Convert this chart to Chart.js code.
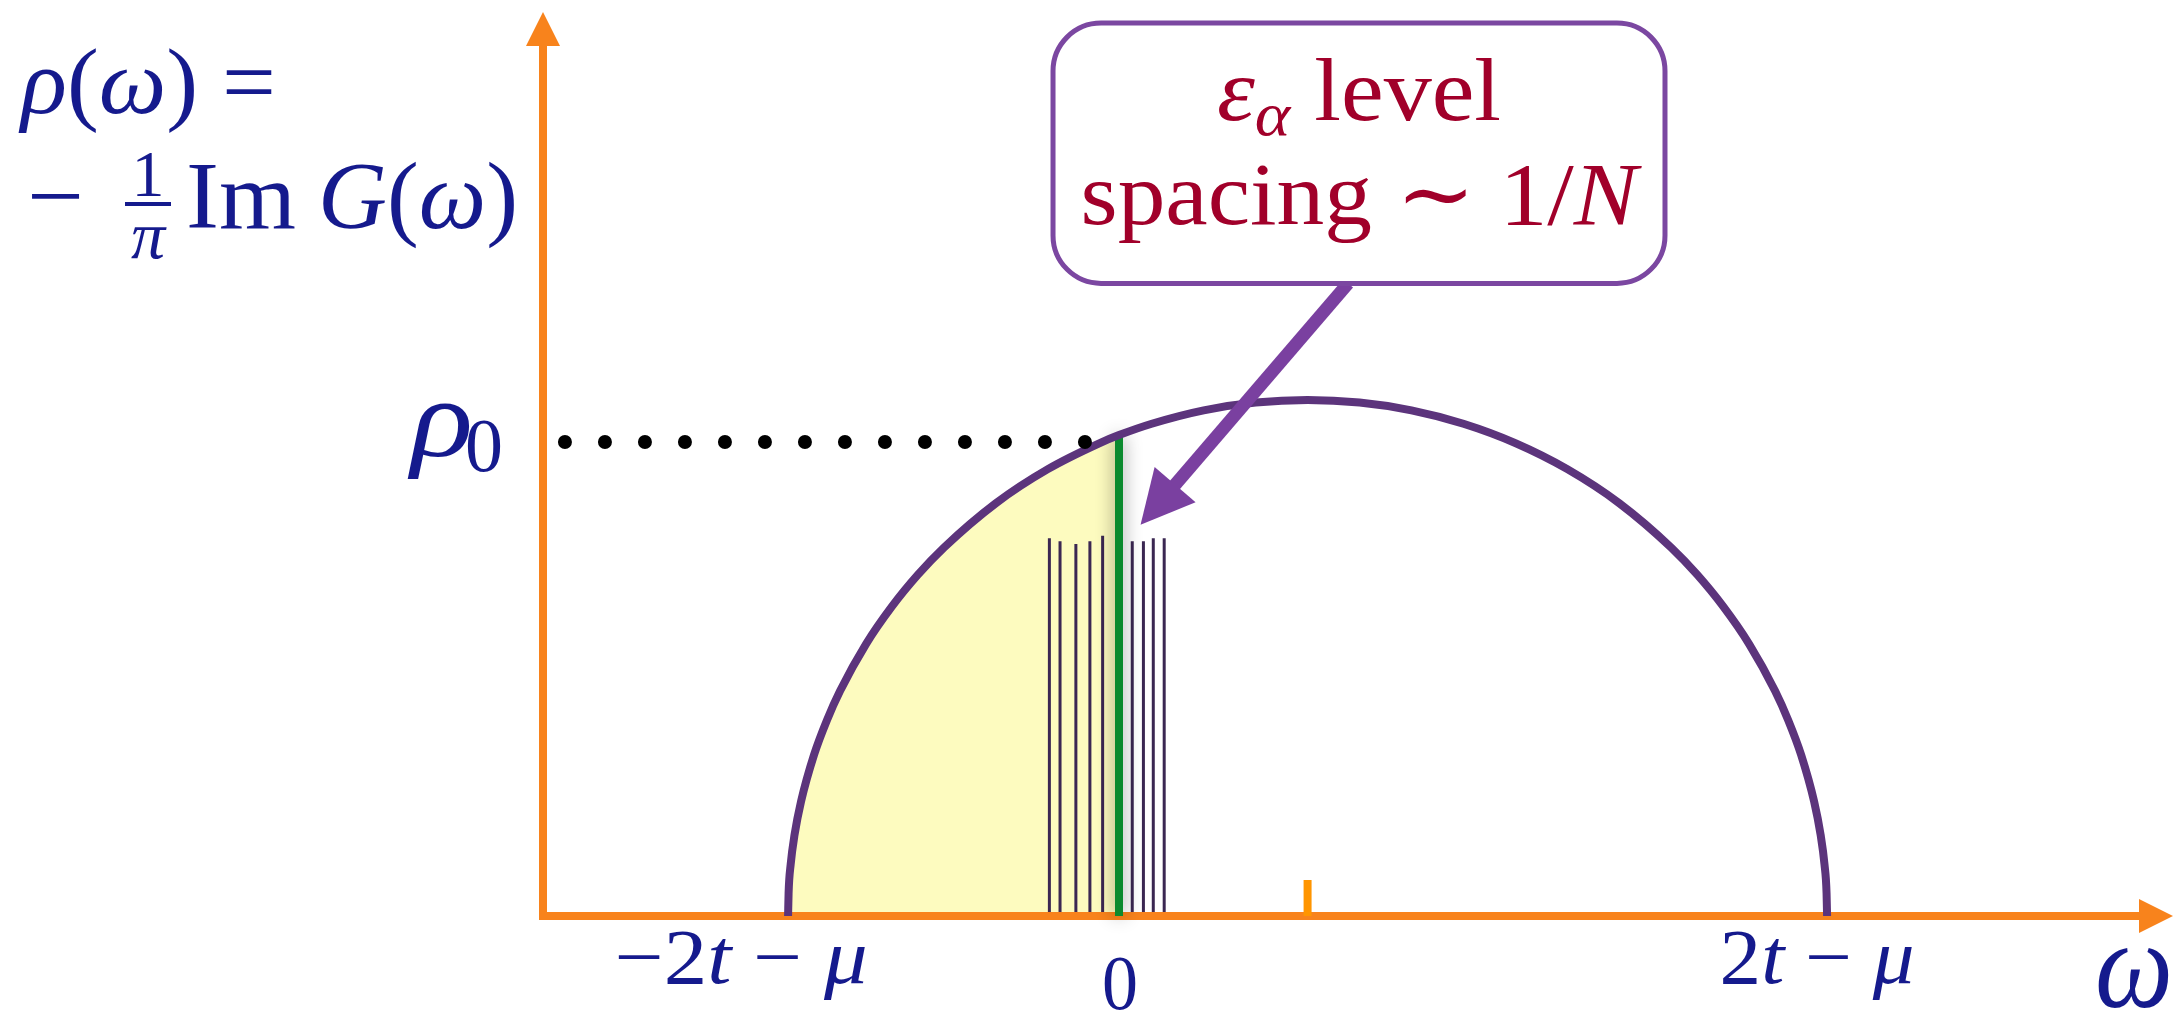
<!DOCTYPE html>
<html>
<head>
<meta charset="utf-8">
<script src="https://cdn.jsdelivr.net/npm/chart.js@4.4.1/dist/chart.umd.min.js"></script>
<style>
  html, body { margin: 0; padding: 0; background: #fff; }
  #wrap { width: 2176px; height: 1010px; }
</style>
</head>
<body>
<div id="wrap"><canvas id="dos" width="2176" height="1010"></canvas></div>
<script>
// semicircular density of states (omega in units of t, mu = -0.726)
const omega = [-1.274, -1.272, -1.264, -1.249, -1.224, -1.174, -1.124, -1.074, -0.974, -0.874,
  -0.774, -0.674, -0.474, -0.274, -0.074, 0, 0.126, 0.326, 0.526, 0.726,
  0.926, 1.126, 1.326, 1.526, 1.726, 1.926, 2.126, 2.226, 2.326, 2.426,
  2.526, 2.576, 2.626, 2.676, 2.701, 2.716, 2.724, 2.726];
const rho = [0, 0.089, 0.200, 0.315, 0.444, 0.625, 0.760, 0.872, 1.054, 1.200,
  1.323, 1.428, 1.600, 1.732, 1.833, 1.864, 1.908, 1.960, 1.990, 2.000,
  1.990, 1.960, 1.908, 1.833, 1.732, 1.600, 1.428, 1.323, 1.200, 1.054,
  0.872, 0.760, 0.625, 0.444, 0.315, 0.200, 0.089, 0];
const filledCount = 16; // occupied part, up to omega = 0

// discrete levels eps_alpha near the Fermi level
const levels = [-0.268, -0.227, -0.166, -0.112, -0.063, 0.051, 0.094, 0.132, 0.174];
const levelHeights = [1.464, 1.453, 1.442, 1.453, 1.474, 1.453, 1.453, 1.464, 1.464];

const rho0 = 1.837;
const rhoAtZero = 1.86;
const dotsFrom = -2.133;
const dotsTo = -0.129;
const bandCenter = 0.726;

const tickValues = [-1.274, 0, 2.726];

const SERIF = '"Liberation Serif", "DejaVu Serif", serif';
const BLUE = '#151a8d';
const RED = '#a1002a';
const ORANGE = '#f8831c';

// label styling for the ticks
const tickText = [
  { parts: [{ t: '\u22122' }, { t: 't', it: 1 }, { t: ' \u2212 ' }, { t: '\u03bc', it: 1 }], width: 253, dx: -47, base: 983 },
  { parts: [{ t: '0' }], width: 36, dx: 1, base: 1009 },
  { parts: [{ t: '2' }, { t: 't', it: 1 }, { t: ' \u2212 ' }, { t: '\u03bc', it: 1 }], width: 195, dx: -10, base: 983 }
];

const callout = {
  box: { left: -0.254, right: 2.102, top: 3.461, bottom: 2.452 },
  tail: { x: 0.882, y: 2.452 },
  tip: { x: 0.083, y: 1.516 }
};

function rich(ctx, parts, x, y, o) {
  const size = o.size;
  const fontOf = p => (p.it ? 'italic ' : '') + Math.round(size * (p.sz || 1)) + 'px ' + SERIF;
  let w = 0;
  const widths = parts.map(p => {
    ctx.font = fontOf(p);
    const pw = ctx.measureText(p.t).width;
    w += pw;
    return pw;
  });
  const k = o.width ? o.width / w : 1;
  let cx = o.align === 'center' ? x - w * k / 2 : x;
  ctx.save();
  ctx.fillStyle = o.color;
  ctx.textAlign = 'left';
  ctx.textBaseline = 'alphabetic';
  parts.forEach((p, i) => {
    ctx.font = fontOf(p);
    ctx.save();
    ctx.translate(cx, y + (p.dy || 0) * size);
    ctx.scale(k, 1);
    ctx.fillText(p.t, 0, 0);
    ctx.restore();
    cx += widths[i] * k;
  });
  ctx.restore();
}

const xy = (xs, ys) => xs.map((x, i) => ({ x: x, y: ys[i] }));

// axes with arrows, drawn just under the green line
const axesPlugin = {
  id: 'axes',
  beforeDatasetDraw(chart, args) {
    if (args.index !== 3) return;
    const ctx = chart.ctx;
    const a = chart.chartArea;
    const x0 = a.left, y0 = chart.scales.y.getPixelForValue(0);
    ctx.save();
    ctx.strokeStyle = ORANGE;
    ctx.fillStyle = ORANGE;
    ctx.lineWidth = 8;
    ctx.beginPath();
    ctx.moveTo(x0, y0 + 4);
    ctx.lineTo(x0, 46);
    ctx.moveTo(x0 - 4, y0);
    ctx.lineTo(2140, y0);
    ctx.stroke();
    ctx.beginPath();
    ctx.moveTo(x0, 12);
    ctx.lineTo(x0 - 17, 46);
    ctx.lineTo(x0 + 17, 46);
    ctx.closePath();
    ctx.fill();
    ctx.beginPath();
    ctx.moveTo(2173, y0);
    ctx.lineTo(2139, y0 - 17);
    ctx.lineTo(2139, y0 + 17);
    ctx.closePath();
    ctx.fill();
    // band centre mark
    const xc = chart.scales.x.getPixelForValue(bandCenter);
    ctx.strokeStyle = '#ff9500';
    ctx.beginPath();
    ctx.moveTo(xc, y0);
    ctx.lineTo(xc, y0 - 36);
    ctx.stroke();
    ctx.restore();
  }
};

// soft shadow around the green line at omega = 0
const shadowPlugin = {
  id: 'shadow',
  beforeDatasetDraw(chart, args) {
    if (args.index !== 3) return;
    chart.ctx.save();
    chart.ctx.shadowColor = 'rgba(0,0,0,0.45)';
    chart.ctx.shadowBlur = 18;
  },
  afterDatasetDraw(chart, args) {
    if (args.index !== 3) return;
    chart.ctx.restore();
  }
};

const labelsPlugin = {
  id: 'labels',
  afterDatasetsDraw(chart) {
    const ctx = chart.ctx;
    const sx = chart.scales.x, sy = chart.scales.y;

    // tick labels
    tickValues.forEach((v, i) => {
      const t = tickText[i];
      rich(ctx, t.parts, sx.getPixelForValue(v) + t.dx, t.base, { size: 78, color: BLUE, align: 'center', width: t.width });
    });
    rich(ctx, [{ t: '\u03c9', it: 1 }], 2095, 1007, { size: 125, color: BLUE, width: 78 });

    // rho_0
    const yr = sy.getPixelForValue(rho0);
    rich(ctx, [{ t: '\u03c1', it: 1 }], 411, yr + 14, { size: 110, color: BLUE, width: 62 });
    rich(ctx, [{ t: '0' }], 465, yr + 29, { size: 76, color: BLUE, width: 38 });

    // y axis title
    rich(ctx, [{ t: '\u03c1', it: 1 }, { t: '(' }, { t: '\u03c9', it: 1 }, { t: ')' }, { t: ' = ' }],
      21, 113, { size: 94, color: BLUE, width: 279 });
    rich(ctx, [{ t: '\u2212' }], 27, 228, { size: 95, color: BLUE, width: 57 });
    rich(ctx, [{ t: '1' }], 148, 196, { size: 66, color: BLUE, align: 'center' });
    ctx.fillStyle = BLUE;
    ctx.fillRect(125, 202, 46, 4);
    rich(ctx, [{ t: '\u03c0', it: 1 }], 148, 258, { size: 68, color: BLUE, align: 'center' });
    rich(ctx, [{ t: 'Im' }], 186, 228, { size: 95, color: BLUE, width: 110 });
    rich(ctx, [{ t: 'G', it: 1 }, { t: '(' }, { t: '\u03c9', it: 1 }, { t: ')' }], 318, 228, { size: 95, color: BLUE, width: 200 });

    // callout box with arrow
    const b = callout.box;
    const L = sx.getPixelForValue(b.left), R = sx.getPixelForValue(b.right);
    const T = sy.getPixelForValue(b.top), B = sy.getPixelForValue(b.bottom);
    const p0 = { x: sx.getPixelForValue(callout.tail.x), y: sy.getPixelForValue(callout.tail.y) };
    const p1 = { x: sx.getPixelForValue(callout.tip.x), y: sy.getPixelForValue(callout.tip.y) };
    const len = Math.hypot(p1.x - p0.x, p1.y - p0.y);
    const ux = (p1.x - p0.x) / len, uy = (p1.y - p0.y) / len;
    const head = 53, half = 27;
    const bx = p1.x - ux * head, by = p1.y - uy * head;
    ctx.save();
    ctx.strokeStyle = '#7a40a0';
    ctx.fillStyle = '#7a40a0';
    ctx.lineWidth = 13;
    ctx.beginPath();
    ctx.moveTo(p0.x, p0.y);
    ctx.lineTo(bx + ux * 2, by + uy * 2);
    ctx.stroke();
    ctx.beginPath();
    ctx.moveTo(p1.x, p1.y);
    ctx.lineTo(bx - uy * half, by + ux * half);
    ctx.lineTo(bx + uy * half, by - ux * half);
    ctx.closePath();
    ctx.fill();

    ctx.beginPath();
    ctx.roundRect(L, T, R - L, B - T, 48);
    ctx.fillStyle = '#fff';
    ctx.fill();
    ctx.lineWidth = 5;
    ctx.strokeStyle = '#7b47a1';
    ctx.stroke();
    ctx.restore();

    const cx = (L + R) / 2;
    rich(ctx, [{ t: '\u03b5', it: 1 }, { t: '\u03b1', it: 1, sz: 0.7, dy: 0.17 }, { t: ' level' }],
      cx, T + 97, { size: 88, color: RED, align: 'center', width: 284 });
    rich(ctx, [{ t: 'spacing \u223c 1/' }, { t: 'N', it: 1 }],
      cx, T + 201, { size: 88, color: RED, align: 'center', width: 557 });
  }
};

new Chart(document.getElementById('dos'), {
  type: 'line',
  data: {
    datasets: [
      {
        label: 'rho',
        data: xy(omega, rho),
        borderColor: '#5c347c',
        borderWidth: 8,
        pointRadius: 0,
        cubicInterpolationMode: 'monotone',
        fill: false,
        clip: false,
        order: 3
      },
      {
        label: 'occupied',
        data: xy(omega.slice(0, filledCount), rho.slice(0, filledCount)),
        borderColor: 'transparent',
        borderWidth: 0,
        pointRadius: 0,
        cubicInterpolationMode: 'monotone',
        backgroundColor: '#fdfbbf',
        fill: 'origin',
        order: 6
      },
      {
        label: 'levels',
        data: levels.flatMap((x, i) => [{ x: x, y: 0 }, { x: x, y: levelHeights[i] }, { x: x, y: null }]),
        borderColor: '#3b2752',
        borderWidth: 3,
        pointRadius: 0,
        spanGaps: false,
        fill: false,
        order: 5
      },
      {
        label: 'omega = 0',
        data: [{ x: 0, y: 0 }, { x: 0, y: rhoAtZero }],
        borderColor: '#0b8a2e',
        borderWidth: 8,
        pointRadius: 0,
        fill: false,
        clip: false,
        order: 4
      },
      {
        label: 'rho0',
        data: [{ x: dotsFrom, y: rho0 }, { x: dotsTo, y: rho0 }],
        borderColor: '#000',
        borderWidth: 14,
        borderDash: [0, 40],
        borderCapStyle: 'round',
        pointRadius: 0,
        fill: false,
        order: 2
      }
    ]
  },
  options: {
    responsive: false,
    animation: false,
    events: [],
    layout: { padding: { left: 543, right: 0, top: 0, bottom: 94 } },
    plugins: { legend: { display: false }, tooltip: { enabled: false } },
    scales: {
      x: { type: 'linear', min: -2.2175, max: 4.0693, display: false },
      y: { type: 'linear', min: 0, max: 3.5504, display: false }
    }
  },
  plugins: [axesPlugin, shadowPlugin, labelsPlugin]
});
</script>
</body>
</html>
